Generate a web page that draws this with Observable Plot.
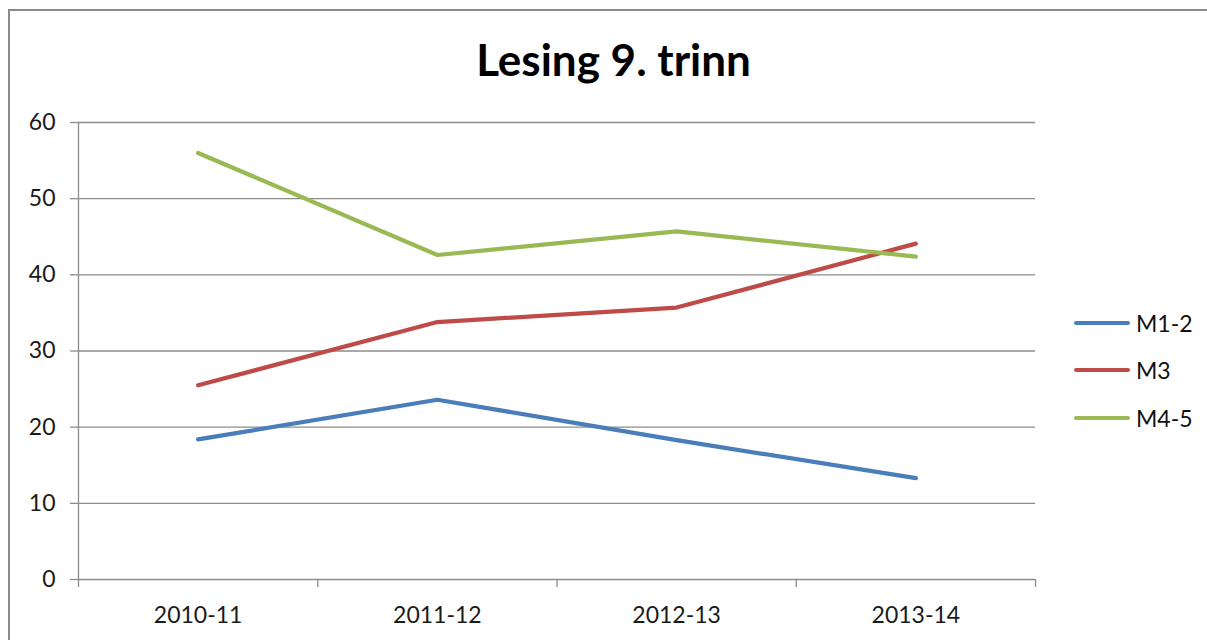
<!DOCTYPE html>
<html>
<head>
<meta charset="utf-8">
<script src="https://cdn.jsdelivr.net/npm/d3@7"></script>
<script src="https://cdn.jsdelivr.net/npm/@observablehq/plot@0.6"></script>
<style>
  html, body { margin: 0; padding: 0; background: #fff; }
  #wrap { position: relative; width: 1207px; height: 640px; overflow: hidden; font-family: Lato, "Open Sans", sans-serif; }
  #frame { position: absolute; left: 8px; top: 9px; width: 1300px; height: 700px; border-left: 2px solid #8a8a8a; border-top: 2px solid #8a8a8a; box-sizing: border-box; }
  #title { position: absolute; left: 0; width: 1227px; top: 33px; text-align: center; font-weight: bold; font-size: 44px; color: #000; line-height: normal; }
  #chart { position: absolute; left: 0; top: 0; }
  #legend { position: absolute; left: 1074px; top: 299px; }
  .item { display: flex; align-items: center; height: 47.5px; font-size: 23px; color: #111; }
  .swatch { width: 56px; height: 4px; border-radius: 2px; margin-right: 6px; }
</style>
</head>
<body>
<div id="wrap">
  <div id="frame"></div>
  <div id="chart"></div>
  <div id="title">Lesing 9. trinn</div>
  <div id="legend"></div>
</div>
<script>
const categories = ["2010-11", "2011-12", "2012-13", "2013-14"];
const seriesNames = ["M1-2", "M3", "M4-5"];
const m12 = [18.4, 23.6, 18.3, 13.3];
const m3 = [25.5, 33.8, 35.7, 44.1];
const m45 = [56.0, 42.6, 45.7, 42.4];
const colors = ["#4a7ebb", "#be4b48", "#98b954"];
const yTicks = [0, 10, 20, 30, 40, 50, 60];

const seriesValues = [m12, m3, m45];
const data = [];
seriesNames.forEach((s, si) => {
  categories.forEach((c, ci) => {
    data.push({series: s, idx: ci + 0.5, value: seriesValues[si][ci]});
  });
});
const bounds = d3.range(categories.length + 1);
const centers = categories.map((c, i) => i + 0.5);

const grid = "#8c8c8c";
const plot = Plot.plot({
  width: 1207,
  height: 640,
  marginLeft: 78,
  marginRight: 172,
  marginTop: 122,
  marginBottom: 61,
  style: {fontFamily: "Lato, 'Open Sans', sans-serif", fontSize: "23px", color: "#1a1a1a", background: "transparent"},
  x: {type: "linear", domain: [0, categories.length], axis: null},
  y: {domain: [0, 60], axis: null},
  color: {domain: seriesNames, range: colors},
  marks: [
    Plot.ruleY(yTicks, {stroke: grid, strokeWidth: 1.3}),
    Plot.ruleX([0], {stroke: grid, strokeWidth: 1.3}),
    Plot.axisY({ticks: yTicks, tickSize: 8, tickPadding: 15, stroke: grid, strokeWidth: 1.3, fill: "#1a1a1a", fontSize: 23, label: null, tickFormat: d => String(d)}),
    Plot.axisX({ticks: bounds, tickSize: 8, tickFormat: () => "", stroke: grid, strokeWidth: 1.3, label: null}),
    Plot.axisX({ticks: centers, tickSize: 0, tickPadding: 27, tickFormat: d => categories[Math.round(d - 0.5)], fill: "#1a1a1a", fontSize: 23, label: null}),
    Plot.lineY(data, {x: "idx", y: "value", z: "series", stroke: "series", strokeWidth: 4.2, strokeLinecap: "round", strokeLinejoin: "round"})
  ]
});
document.getElementById("chart").appendChild(plot);

const legend = document.getElementById("legend");
seriesNames.forEach((s, i) => {
  const item = document.createElement("div");
  item.className = "item";
  const sw = document.createElement("div");
  sw.className = "swatch";
  sw.style.background = colors[i];
  const lab = document.createElement("span");
  lab.textContent = s;
  item.appendChild(sw);
  item.appendChild(lab);
  legend.appendChild(item);
});
</script>
</body>
</html>
